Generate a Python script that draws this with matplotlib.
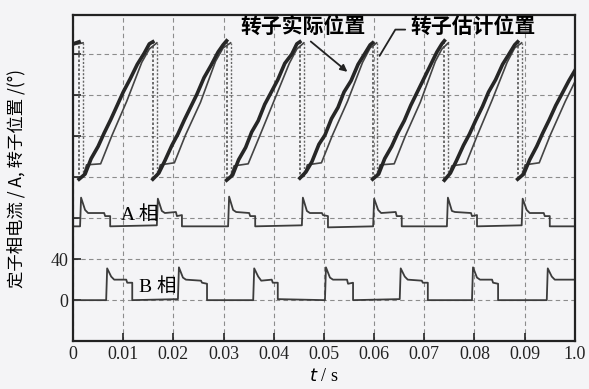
import matplotlib.pyplot as plt

nan = float("nan")

rot_t = [0.0000, 0.0012, 0.0012,
         0.0012, 0.0024, 0.0036, 0.0050, 0.0062, 0.0075, 0.0088, 0.0100, 0.0114, 0.0128, 0.0142, 0.0152, 0.0159, 0.0159,
         0.0159, 0.0171, 0.0183, 0.0197, 0.0209, 0.0222, 0.0235, 0.0247, 0.0261, 0.0275, 0.0289, 0.0299, 0.0306, 0.0306,
         0.0306, 0.0318, 0.0330, 0.0344, 0.0356, 0.0369, 0.0382, 0.0394, 0.0408, 0.0422, 0.0436, 0.0446, 0.0452, 0.0452,
         0.0452, 0.0464, 0.0476, 0.0490, 0.0502, 0.0515, 0.0528, 0.0540, 0.0554, 0.0568, 0.0582, 0.0592, 0.0597, 0.0597,
         0.0597, 0.0609, 0.0621, 0.0635, 0.0647, 0.0660, 0.0673, 0.0685, 0.0699, 0.0712, 0.0725, 0.0735, 0.0740, 0.0740,
         0.0740, 0.0752, 0.0764, 0.0778, 0.0790, 0.0803, 0.0816, 0.0828, 0.0842, 0.0856, 0.0870, 0.0880, 0.0886, 0.0886,
         0.0886, 0.0898, 0.0910, 0.0924, 0.0936, 0.0949, 0.0962, 0.0974, 0.0988, 0.1000]
rot_v = [250, 252, nan,
         118, 123, 138, 150, 163, 176, 190, 203, 216, 230, 241, 250, 252, nan,
         118, 124, 136, 151, 162, 176, 189, 201, 217, 229, 242, 249, 253, nan,
         117, 122, 137, 149, 164, 175, 191, 202, 215, 231, 240, 250, 252, nan,
         119, 125, 135, 152, 161, 177, 188, 203, 214, 230, 241, 249, 251, nan,
         118, 123, 138, 150, 163, 175, 190, 202, 216, 229, 242, 250, 253, nan,
         117, 124, 136, 151, 162, 176, 189, 203, 215, 230, 241, 249, 252, nan,
         118, 123, 137, 150, 163, 176, 190, 201, 214, 224]
rot_drop_t = [0.0012, 0.0159, 0.0306, 0.0452, 0.0597, 0.0740, 0.0886]

# rotor position (estimated)
est_t = [0.0000, 0.0020, 0.0020,
         0.0020, 0.0027, 0.0055, 0.0077, 0.0107, 0.0137, 0.0152, 0.0167, 0.0167,
         0.0167, 0.0174, 0.0202, 0.0224, 0.0254, 0.0284, 0.0299, 0.0314, 0.0314,
         0.0314, 0.0321, 0.0349, 0.0371, 0.0401, 0.0431, 0.0446, 0.0460, 0.0460,
         0.0460, 0.0467, 0.0495, 0.0517, 0.0547, 0.0577, 0.0592, 0.0605, 0.0605,
         0.0605, 0.0612, 0.0640, 0.0662, 0.0692, 0.0722, 0.0735, 0.0748, 0.0748,
         0.0748, 0.0755, 0.0783, 0.0805, 0.0835, 0.0865, 0.0880, 0.0894, 0.0894,
         0.0894, 0.0901, 0.0929, 0.0951, 0.0981, 0.1000]
est_v = [249, 251, nan,
         121, 132, 133, 160, 194, 232, 245, 251, nan,
         121, 132, 134, 161, 193, 233, 246, 251, nan,
         121, 131, 133, 159, 195, 231, 245, 251, nan,
         121, 132, 134, 161, 194, 232, 246, 251, nan,
         121, 132, 133, 160, 193, 233, 245, 251, nan,
         121, 131, 133, 160, 195, 232, 246, 251, nan,
         121, 132, 134, 161, 194, 213]
est_drop_t = [0.0020, 0.0167, 0.0314, 0.0460, 0.0605, 0.0748, 0.0894]

# phase A current (offset trace)
a_t = [0.0000,
       0.0014, 0.0016, 0.0024, 0.0030, 0.0062, 0.0064, 0.0074, 0.0074,
       0.0167, 0.0169, 0.0177, 0.0183, 0.0205, 0.0207, 0.0217, 0.0217,
       0.0309, 0.0311, 0.0319, 0.0325, 0.0351, 0.0353, 0.0363, 0.0363,
       0.0456, 0.0458, 0.0466, 0.0472, 0.0496, 0.0498, 0.0508, 0.0508,
       0.0598, 0.0600, 0.0608, 0.0614, 0.0643, 0.0645, 0.0655, 0.0655,
       0.0745, 0.0747, 0.0755, 0.0761, 0.0793, 0.0795, 0.0805, 0.0805,
       0.0894, 0.0896, 0.0904, 0.0910, 0.0938, 0.0940, 0.0950, 0.0950,
       0.1000]
a_v = [72,
       72, 100, 88, 85, 85, 82, 82, 72,
       73, 99, 87, 85, 86, 82, 83, 72,
       72, 101, 88, 86, 85, 82, 82, 72,
       73, 100, 87, 85, 85, 83, 82, 71,
       72, 99, 88, 85, 86, 82, 82, 72,
       72, 100, 87, 86, 85, 82, 83, 72,
       73, 99, 88, 85, 85, 82, 82, 72,
       72]

# phase B current
b_t = [0.0000,
       0.0066, 0.0068, 0.0076, 0.0082, 0.0106, 0.0108, 0.0118, 0.0118,
       0.0209, 0.0211, 0.0219, 0.0225, 0.0255, 0.0257, 0.0267, 0.0267,
       0.0359, 0.0361, 0.0369, 0.0375, 0.0396, 0.0398, 0.0408, 0.0408,
       0.0502, 0.0504, 0.0512, 0.0518, 0.0546, 0.0548, 0.0558, 0.0558,
       0.0651, 0.0653, 0.0661, 0.0667, 0.0695, 0.0697, 0.0707, 0.0707,
       0.0795, 0.0797, 0.0805, 0.0811, 0.0835, 0.0837, 0.0847, 0.0847,
       0.0944, 0.0946, 0.0954, 0.0960, 0.1000]
b_v = [0,
       0, 31, 23, 20, 20, 17, 17, 0,
       1, 32, 22, 20, 19, 17, 16, 0,
       0, 31, 23, 19, 20, 17, 17, 1,
       0, 32, 22, 20, 20, 16, 17, 0,
       1, 31, 23, 20, 19, 17, 17, 0,
       0, 32, 22, 20, 20, 17, 16, 0,
       0, 31, 23, 20, 20]

x_ticks = [0, 0.01, 0.02, 0.03, 0.04, 0.05, 0.06, 0.07, 0.08, 0.09, 0.1]
x_labels = ["0", "0.01", "0.02", "0.03", "0.04", "0.05", "0.06", "0.07", "0.08", "0.09", "1.0"]
y_ticks = [0, 40, 80, 120, 160, 200, 240]
y_labels = ["0", "40", "", "", "", "", ""]

serif = ["Liberation Serif", "Noto Sans CJK SC"]
cjk = ["Noto Sans CJK SC", "DejaVu Sans"]

fig = plt.figure(figsize=(5.89, 3.89), dpi=100, facecolor="#f4f4f6")
ax = fig.add_axes([0.124, 0.123, 0.852, 0.838])
ax.set_facecolor("#f4f4f6")

# position resets: thin dotted verticals
ax.vlines(rot_drop_t, 118, 252, colors="#555555", linestyles=(0, (1.5, 1.2)), linewidth=1.2)
ax.vlines(est_drop_t, 121, 251, colors="#666666", linestyles=(0, (1.5, 1.2)), linewidth=1.0)

ax.plot(b_t, b_v, color="#3c3c3c", linewidth=1.3)
ax.plot(a_t, a_v, color="#3c3c3c", linewidth=1.3)
ax.plot(est_t, est_v, color="#444444", linewidth=1.2)
ax.plot(rot_t, rot_v, color="#262626", linewidth=2.6)

ax.set_xlim(0, 0.1)
ax.set_ylim(-40, 278)
ax.set_xticks(x_ticks)
ax.set_xticklabels(x_labels, family=serif, fontsize=13)
ax.set_yticks(y_ticks)
ax.set_yticklabels(y_labels, family=serif, fontsize=13)
ax.tick_params(direction="in", length=6, width=1.2, colors="#222222")
ax.grid(True, color="#8c8c8c", linestyle=(0, (4, 3)), linewidth=0.8)
for s in ax.spines.values():
    s.set_linewidth(1.6)
    s.set_color("#222222")

ax.set_ylabel("定子相电流 / A, 转子位置 /(°)", family=cjk, fontsize=12.5)
ax.yaxis.set_label_coords(-0.094, 0.5)
ax.set_xlabel("$t$ / s", family=serif, fontsize=13)
ax.xaxis.set_label_coords(0.5, -0.082)

ax.text(0.0133, 83, "A 相", family=serif, fontsize=14, ha="center", va="center")
ax.text(0.0169, 13, "B 相", family=serif, fontsize=14, ha="center", va="center")

ax.annotate("转子实际位置", xy=(0.0551, 221), xytext=(0.0333, 267),
            family=cjk, fontsize=15, fontweight="bold", ha="left", va="center",
            arrowprops=dict(arrowstyle="-|>", color="#222222", lw=1.3,
                            relpos=(0.52, 0.0), mutation_scale=10))
ax.annotate("转子估计位置", xy=(0.0608, 236), xytext=(0.0673, 267),
            family=cjk, fontsize=15, fontweight="bold", ha="left", va="center",
            arrowprops=dict(arrowstyle="-", color="#222222", lw=1.3,
                            relpos=(0.0, 0.35),
                            connectionstyle="angle,angleA=0,angleB=59,rad=0"))

fig.savefig("out.png", dpi=100, facecolor=fig.get_facecolor())
